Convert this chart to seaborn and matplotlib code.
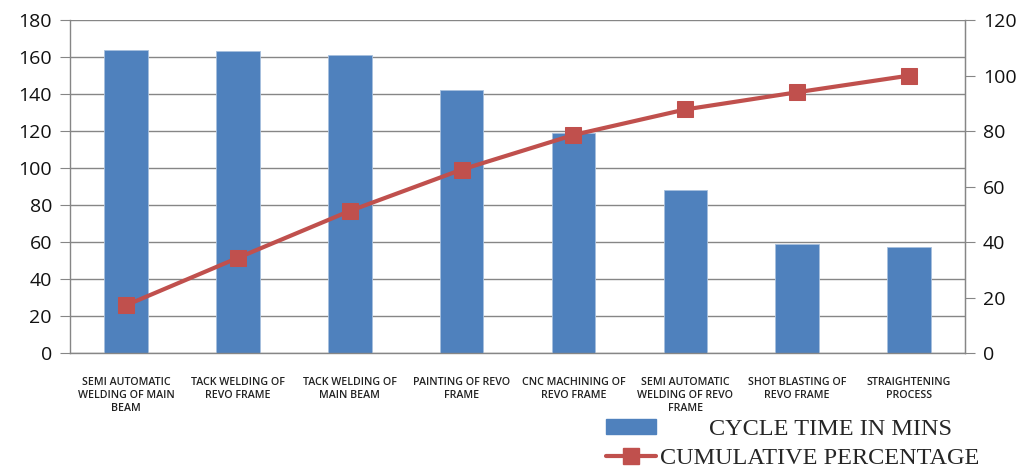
import numpy as np
import pandas as pd
import matplotlib
matplotlib.use("Agg")
import matplotlib.pyplot as plt
import seaborn as sns
from matplotlib.lines import Line2D
from matplotlib.patches import Patch
from matplotlib.ticker import MultipleLocator, FixedLocator

categories = [
    "SEMI AUTOMATIC\nWELDING OF MAIN\nBEAM",
    "TACK WELDING OF\nREVO FRAME",
    "TACK WELDING OF\nMAIN BEAM",
    "PAINTING OF REVO\nFRAME",
    "CNC MACHINING OF\nREVO FRAME",
    "SEMI AUTOMATIC\nWELDING OF REVO\nFRAME",
    "SHOT BLASTING OF\nREVO FRAME",
    "STRAIGHTENING\nPROCESS",
]
cycle_time = [164, 163.5, 161, 142, 119, 88, 59, 57.5]
cumulative_pct = [17.2, 34.3, 51.2, 66.1, 78.6, 87.8, 94.0, 100.0]

bar_color = "#4F81BD"
line_color = "#C0504D"
axis_gray = "#868686"

sns.set_style("white")
plt.rcParams["font.family"] = ["Open Sans", "DejaVu Sans"]

df = pd.DataFrame({"process": categories, "time": cycle_time,
                   "cum": cumulative_pct, "pos": np.arange(len(categories))})

fig = plt.figure(figsize=(10.34, 4.68), dpi=100)
ax = fig.add_axes([0.0677, 0.2457, 0.8656, 0.7113])

sns.barplot(data=df, x="process", y="time", color=bar_color, width=0.39,
            saturation=1, edgecolor="#A7C0DE", linewidth=0.6, ax=ax, zorder=2)
ax.set_xlim(-0.5, len(categories) - 0.5)
ax.set_ylim(0, 180)
ax.yaxis.set_major_locator(MultipleLocator(20))
ax.grid(axis="y", color=axis_gray, linewidth=1.0, zorder=0)
ax.set_axisbelow(True)
ax.set_xlabel("")
ax.set_ylabel("")

ax.spines["top"].set_visible(False)
for s in ["left", "bottom", "right"]:
    ax.spines[s].set_color(axis_gray)
    ax.spines[s].set_linewidth(1.0)

ax.tick_params(axis="y", direction="out", length=7, color=axis_gray,
               labelsize=14, pad=6, labelcolor="#111111")
ax.tick_params(axis="x", which="major", length=0, pad=17, labelsize=7.7,
               labelcolor="#222222")
ax.xaxis.set_minor_locator(FixedLocator(np.arange(-0.5, len(categories), 1.0)))
ax.tick_params(axis="x", which="minor", direction="out", length=6, color=axis_gray)
for lbl in ax.get_xticklabels():
    lbl.set_fontweight("semibold")
    lbl.set_linespacing(1.3)

ax2 = ax.twinx()
sns.lineplot(data=df, x="pos", y="cum", color=line_color, linewidth=3,
             marker="s", markersize=12, markeredgecolor=line_color,
             sort=False, ax=ax2, zorder=3)
ax2.set_ylim(0, 120)
ax2.yaxis.set_major_locator(MultipleLocator(20))
ax2.set_xlim(-0.5, len(categories) - 0.5)
ax2.set_ylabel("")
ax2.set_xlabel("")
for s in ["top", "left", "bottom"]:
    ax2.spines[s].set_visible(False)
ax2.spines["right"].set_color(axis_gray)
ax2.tick_params(axis="y", direction="out", length=7, color=axis_gray,
                labelsize=14, pad=6, labelcolor="#111111")

handles = [
    Patch(facecolor=bar_color, edgecolor=bar_color),
    Line2D([0], [0], color=line_color, linewidth=3, marker="s",
           markersize=12, markeredgecolor=line_color),
]
labels = ["        CYCLE TIME IN MINS", "CUMULATIVE PERCENTAGE"]
fig.legend(handles, labels, loc="lower left",
           bbox_to_anchor=(0.577, -0.022), frameon=False,
           prop={"family": "Liberation Serif", "size": 17.5},
           handlelength=2.05, handleheight=0.55, handletextpad=0.15,
           labelspacing=0.3, borderaxespad=0)

fig.savefig("out.png", dpi=100)
